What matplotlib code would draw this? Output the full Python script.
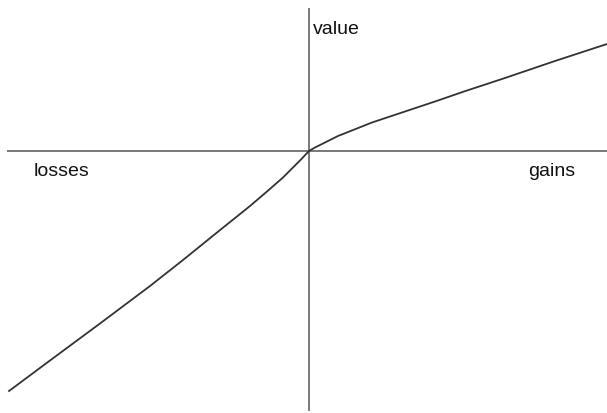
import matplotlib
matplotlib.use("Agg")
import matplotlib.pyplot as plt

# Value function (x: outcome, v: value)
loss_x = [-300, -259, -209, -159, -126, -92, -59, -42, -26, -9, 0]
loss_v = [-240, -209.5, -172.5, -135, -109, -81.5, -55, -40.5, -26.5, -9.5, 0]
gain_x = [0, 6, 13, 29, 63, 96, 129, 155, 196, 246, 298]
gain_v = [0, 3.5, 7, 15, 28.5, 39.5, 50.5, 59.5, 73, 90, 107]

label_y = "value"
label_loss = "losses"
label_gain = "gains"

fig = plt.figure(figsize=(6.07, 4.14), dpi=100)
ax = fig.add_axes([0, 0, 1, 1])
ax.set_xlim(-309, 298)
ax.set_ylim(-262, 152)
ax.axis("off")

axis_color = "#555555"
ax.plot([-302, 298], [0, 0], color=axis_color, lw=1.1, solid_capstyle="butt")
ax.plot([0, 0], [143, -260], color=axis_color, lw=1.1, solid_capstyle="butt")

ax.plot(loss_x + gain_x[1:], loss_v + gain_v[1:], color="#333333", lw=1.3,
        solid_joinstyle="round")

font = dict(family=["Liberation Sans", "DejaVu Sans"], size=14, color="#111111")
ax.text(3.7, 118, label_y, ha="left", va="baseline", **font)
ax.text(-275.7, -24, label_loss, ha="left", va="baseline", **font)
ax.text(219.3, -24, label_gain, ha="left", va="baseline", **font)

fig.savefig("out.png", dpi=100)
